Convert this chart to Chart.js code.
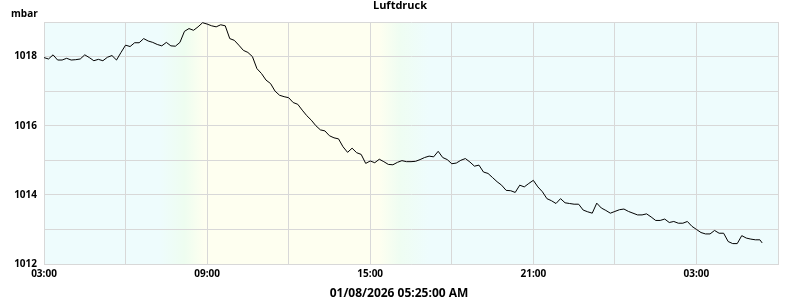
<!DOCTYPE html>
<html><head><meta charset="utf-8">
<script src="https://cdn.jsdelivr.net/npm/chart.js@4"></script>
<style>html,body{margin:0;padding:0;background:#fff}#wrap{width:800px;height:300px;position:relative}</style>
</head><body><div id="wrap"><canvas id="c" width="800" height="300"></canvas></div>
<script>
const chartTitle = 'Luftdruck';
const unitLabel = 'mbar';
const footerText = '01/08/2026 05:25:00 AM';
const xTickLabels = ['03:00', '09:00', '15:00', '21:00', '03:00'];
const yTickLabels = ['1012', '1014', '1016', '1018'];
// pressure readings, one every 10 minutes from 03:00, last one at 05:25
const pressure = [
 1017.97,1017.93,1018.05,1017.90,1017.90,1017.95,1017.90,1017.91,1017.93,1018.05,
 1017.97,1017.88,1017.92,1017.88,1017.98,1018.03,1017.90,1018.12,1018.33,1018.29,
 1018.40,1018.40,1018.52,1018.45,1018.41,1018.35,1018.31,1018.41,1018.31,1018.30,
 1018.41,1018.73,1018.81,1018.76,1018.86,1018.98,1018.94,1018.89,1018.86,1018.92,
 1018.89,1018.52,
 1018.47,1018.33,1018.18,1018.12,1018.00,1017.65,1017.51,1017.32,1017.22,1017.00,
 1016.88,1016.84,1016.81,1016.67,1016.62,1016.45,1016.29,1016.16,1016.00,1015.88,
 1015.85,1015.71,1015.65,1015.62,1015.39,1015.23,1015.35,1015.22,1015.17,1014.91,
 1014.98,1014.93,1015.03,1014.96,1014.88,1014.87,1014.94,1014.99,1014.96,
 1014.96,1014.97,1015.02,1015.08,1015.12,1015.10,1015.26,1015.08,1015.02,1014.90,
 1014.92,1015.00,1015.05,1014.95,1014.83,1014.86,1014.66,1014.62,1014.50,1014.38,
 1014.28,1014.13,1014.12,1014.07,1014.28,1014.23,1014.33,1014.42,1014.23,1014.09,
 1013.89,1013.83,1013.75,1013.89,1013.77,1013.75,1013.73,1013.73,1013.56,1013.51,
 1013.47,1013.76,1013.62,1013.55,1013.47,1013.52,1013.57,1013.59,1013.52,1013.47,
 1013.42,1013.42,1013.45,1013.36,1013.26,1013.26,1013.30,1013.20,1013.23,1013.18,
 1013.18,1013.23,1013.09,1013.00,1012.91,1012.87,1012.87,1012.97,1012.89,1012.89,
 1012.65,1012.59,1012.59,1012.82,1012.75,1012.72,1012.70,1012.70,
 1012.61
];
// minutes since 03:00 for each reading
const minutes = pressure.map((_, i) => i < pressure.length - 1 ? i * 10 : 1585);
// day/night background bands (minutes since 03:00)
const bands = [
  {at: 0, c: 'rgb(238,252,253)'},
  {at: 255, c: 'rgb(238,252,253)'},
  {at: 310, c: 'rgb(238,253,240)'},
  {at: 355, c: 'rgb(254,255,240)'},
  {at: 740, c: 'rgb(254,255,240)'},
  {at: 785, c: 'rgb(239,253,242)'},
  {at: 850, c: 'rgb(238,252,253)'},
  {at: 1620, c: 'rgb(238,252,253)'}
];

const FONT = '"Open Sans", "DejaVu Sans", sans-serif';
const bgPlugin = {
  id: 'bg',
  beforeDraw(chart) {
    const {ctx, chartArea: a, scales: {x}} = chart;
    const x0 = x.getPixelForValue(0), x1 = x.getPixelForValue(1620);
    const g = ctx.createLinearGradient(x0, 0, x1, 0);
    bands.forEach(b => g.addColorStop(b.at / 1620, b.c));
    ctx.save();
    ctx.fillStyle = g;
    ctx.fillRect(a.left, a.top, a.right - a.left, a.bottom - a.top);
    ctx.restore();
  },
  afterDraw(chart) {
    const ctx = chart.ctx;
    ctx.save();
    ctx.fillStyle = '#000';
    ctx.textBaseline = 'alphabetic';
    ctx.font = 'bold 11px ' + FONT;
    ctx.textAlign = 'center';
    ctx.fillText(chartTitle, 400, 9);
    ctx.font = 'bold 10px ' + FONT;
    ctx.textAlign = 'left';
    ctx.fillText(unitLabel, 11, 16.5);
    ctx.font = 'bold 12px ' + FONT;
    ctx.textAlign = 'center';
    ctx.fillText(footerText, 399, 297);
    ctx.restore();
  }
};

new Chart(document.getElementById('c'), {
  type: 'line',
  data: {
    datasets: [{
      data: minutes.map((m, i) => ({x: m, y: pressure[i]})),
      borderColor: '#000',
      borderWidth: 1,
      pointRadius: 0,
      tension: 0,
      fill: false
    }]
  },
  options: {
    responsive: false,
    animation: false,
    devicePixelRatio: 1,
    layout: {padding: {left: 0, right: 22, top: 22, bottom: 0}},
    plugins: {legend: {display: false}, tooltip: {enabled: false}, title: {display: false}},
    scales: {
      x: {
        type: 'linear', min: 0, max: 1620,
        afterFit(s) { s.height = 36; },
        ticks: {
          stepSize: 180, autoSkip: false, maxRotation: 0, padding: 4,
          color: '#000', font: {family: FONT, size: 10, weight: 'bold'},
          callback: (v) => (v % 360 === 0) ? xTickLabels[v / 360] : ''
        },
        grid: {color: 'rgb(216,216,216)', lineWidth: 1, tickLength: 0, drawTicks: false},
        border: {color: 'rgb(216,216,216)'}
      },
      y: {
        min: 1012, max: 1019,
        afterFit(s) { s.width = 44; },
        ticks: {
          stepSize: 1, autoSkip: false, padding: 7,
          color: '#000', font: {family: FONT, size: 10, weight: 'bold'},
          callback: (v) => (v % 2 === 0) ? yTickLabels[(v - 1012) / 2] : ''
        },
        grid: {color: 'rgb(216,216,216)', lineWidth: 1, tickLength: 0, drawTicks: false},
        border: {color: 'rgb(216,216,216)'}
      }
    }
  },
  plugins: [bgPlugin]
});
</script></body></html>
